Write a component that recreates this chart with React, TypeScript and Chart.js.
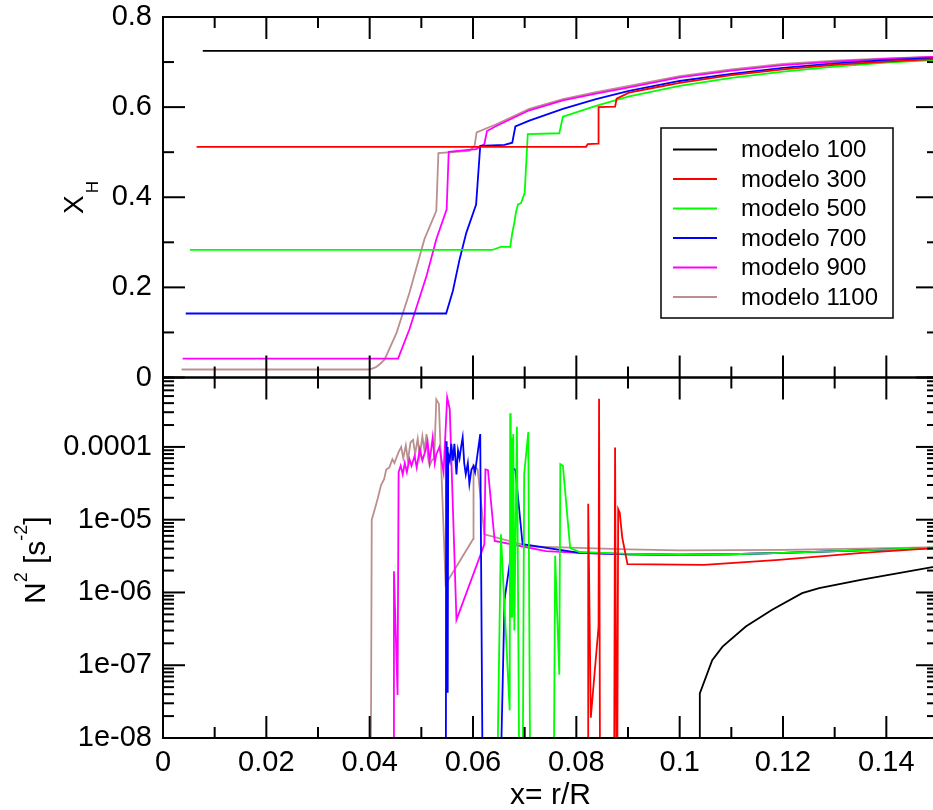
import React, { useEffect, useRef } from 'react';
import { Chart, registerables } from 'chart.js';

Chart.register(...registerables);

const FONT = '"Liberation Sans", Arial, Helvetica, sans-serif';

// ---------- series meta ----------
const seriesLabels = ['modelo 100', 'modelo 300', 'modelo 500', 'modelo 700', 'modelo 900', 'modelo 1100'];
const seriesColors = ['#000000', '#ff0000', '#00ff00', '#0000ff', '#ff00ff', '#bc8f8f'];

// ---------- axis ranges / ticks ----------
const xRange = [0, 0.15];
const xhRange = [0, 0.8];
const n2Range = [1e-8, 9e-4];
const n2DecadeLabels: Record<string, string> = { '-8': '1e-08', '-7': '1e-07', '-6': '1e-06', '-5': '1e-05', '-4': '0.0001' };

// ---------- top panel: X_H vs x = r/R ----------
const xhM100 = [[0.0077, 0.725], [0.15, 0.725]];
const xhM300 = [[0.0065, 0.512], [0.0819, 0.512], [0.0822, 0.518], [0.0842, 0.519], [0.0843, 0.600], [0.0875, 0.601],
  [0.0878, 0.619], [0.0902, 0.632], [0.095, 0.643], [0.1, 0.654], [0.11, 0.671], [0.12, 0.684], [0.13, 0.694], [0.14, 0.701], [0.15, 0.707]];
const xhM500 = [[0.0052, 0.283], [0.0637, 0.283], [0.0654, 0.290], [0.0672, 0.290], [0.0676, 0.321], [0.0680, 0.344],
  [0.0683, 0.366], [0.0687, 0.384], [0.0693, 0.387], [0.0700, 0.410], [0.0706, 0.540], [0.0767, 0.542], [0.0774, 0.579],
  [0.0838, 0.603], [0.0902, 0.624], [0.1, 0.647], [0.11, 0.665], [0.12, 0.679], [0.13, 0.690], [0.14, 0.699], [0.15, 0.705]];
const xhM700 = [[0.0044, 0.142], [0.0548, 0.142], [0.0561, 0.192], [0.0574, 0.262], [0.0587, 0.321], [0.0606, 0.384],
  [0.0614, 0.514], [0.0661, 0.516], [0.0676, 0.521], [0.0682, 0.557], [0.0709, 0.570], [0.0774, 0.596], [0.0838, 0.618],
  [0.0902, 0.636], [0.1, 0.658], [0.11, 0.674], [0.12, 0.687], [0.13, 0.697], [0.14, 0.704], [0.15, 0.709]];
const xhM900 = [[0.0038, 0.042], [0.0455, 0.042], [0.0477, 0.107], [0.0510, 0.225], [0.0529, 0.307], [0.0549, 0.373],
  [0.0553, 0.501], [0.0606, 0.507], [0.0622, 0.518], [0.0627, 0.547], [0.0645, 0.558], [0.0709, 0.593], [0.0774, 0.615],
  [0.0838, 0.630], [0.0902, 0.644], [0.1, 0.666], [0.11, 0.681], [0.12, 0.693], [0.13, 0.701], [0.14, 0.707], [0.15, 0.712]];
const xhM1100 = [[0.0036, 0.0178], [0.0400, 0.0178], [0.0412, 0.023], [0.0420, 0.030], [0.0429, 0.040], [0.0452, 0.099],
  [0.0477, 0.188], [0.0506, 0.307], [0.0529, 0.370], [0.0533, 0.498], [0.0593, 0.503], [0.0603, 0.514], [0.0607, 0.544],
  [0.0645, 0.562], [0.0709, 0.596], [0.0774, 0.618], [0.0838, 0.633], [0.0902, 0.647], [0.1, 0.669], [0.11, 0.684],
  [0.12, 0.696], [0.13, 0.703], [0.14, 0.708], [0.15, 0.712]];

// ---------- bottom panel: N^2 [s^-2] vs x = r/R (values below 1e-8 fall off the axis) ----------
const n2M100 = [[0.1039, 1e-9], [0.1039, 4.1e-8], [0.1063, 1.17e-7], [0.1083, 1.8e-7], [0.1128, 3.4e-7], [0.1179, 5.8e-7],
  [0.1237, 9.8e-7], [0.1270, 1.15e-6], [0.1353, 1.5e-6], [0.15, 2.3e-6]];
const n2M300 = [[0.0823, 1e-9], [0.0823, 1.66e-5], [0.0828, 1.9e-8], [0.0843, 3.4e-7], [0.0844, 4.6e-4], [0.0846, 1e-9],
  [0.0873, 1e-9], [0.0875, 9.8e-5], [0.0878, 1e-9], [0.0879, 1e-9], [0.0881, 1.4e-5], [0.0884, 1.25e-5], [0.0889, 5.6e-6],
  [0.0899, 2.45e-6], [0.1047, 2.4e-6], [0.1192, 2.8e-6], [0.1353, 3.5e-6], [0.15, 4.1e-6]];
const n2M500 = [[0.0646, 1e-9], [0.0654, 6.3e-6], [0.0671, 2.4e-8], [0.0672, 2.9e-4], [0.0673, 4.5e-7], [0.0675, 1.35e-4],
  [0.0676, 4.5e-7], [0.0678, 1.5e-4], [0.0680, 3e-7], [0.0685, 1.9e-4], [0.0690, 1e-9], [0.0696, 1e-9], [0.0699, 4.2e-5],
  [0.0707, 1.6e-4], [0.0711, 1e-9], [0.0756, 1e-9], [0.0759, 3.2e-6], [0.0767, 7.4e-8], [0.0769, 5.8e-5], [0.0774, 5.5e-5],
  [0.0788, 4.1e-6], [0.0806, 3.6e-6], [0.0902, 3.4e-6], [0.1, 3.3e-6], [0.11, 3.35e-6], [0.12, 3.5e-6], [0.135, 3.8e-6], [0.15, 4.15e-6]];
const n2M700 = [[0.05475, 1e-9], [0.0548, 1.2e-4], [0.0549, 4.2e-8], [0.0550, 1.0e-4], [0.0551, 4.2e-8], [0.0552, 8e-5],
  [0.0555, 6.5e-5], [0.0558, 1.1e-4], [0.0561, 6.5e-5], [0.0564, 1.1e-4], [0.0568, 4.2e-5], [0.0571, 9e-5], [0.0574, 7e-5],
  [0.0577, 1.0e-4], [0.0580, 1.35e-4], [0.0583, 6e-5], [0.0586, 4.2e-5], [0.0590, 6e-5], [0.0593, 3.1e-5], [0.0597, 4.9e-5],
  [0.0601, 5.5e-5], [0.0604, 4.5e-5], [0.0614, 1.5e-4], [0.0619, 1e-9], [0.0652, 1e-9], [0.0661, 7.9e-7], [0.0674, 3.5e-6],
  [0.0677, 5.2e-5], [0.0682, 4.8e-5], [0.0696, 4.6e-6], [0.0806, 3.5e-6], [0.0902, 3.35e-6], [0.1, 3.3e-6], [0.11, 3.35e-6],
  [0.12, 3.5e-6], [0.135, 3.8e-6], [0.15, 4.1e-6]];
const n2M900 = [[0.0447, 1e-9], [0.0447, 1.95e-6], [0.0454, 3.9e-8], [0.0456, 4.5e-5], [0.0460, 5.5e-5], [0.0464, 4.2e-5],
  [0.0468, 6e-5], [0.0472, 4.5e-5], [0.0477, 6.8e-5], [0.0481, 5.5e-5], [0.0487, 7.5e-5], [0.0491, 5.2e-5], [0.0497, 9.3e-5],
  [0.0502, 6.5e-5], [0.0508, 8.9e-5], [0.0512, 1.2e-4], [0.0516, 6.3e-5], [0.0522, 1.35e-4], [0.0526, 6e-5], [0.0529, 7.9e-5],
  [0.0535, 1.0e-4], [0.0543, 4.5e-5], [0.0550, 4.8e-4], [0.0555, 3.3e-4], [0.0568, 4.2e-7], [0.0622, 4.6e-6], [0.0624, 4.9e-5],
  [0.0629, 4.8e-5], [0.0642, 5.1e-6], [0.0741, 3.7e-6], [0.0806, 3.5e-6], [0.0902, 3.35e-6], [0.1, 3.3e-6], [0.11, 3.35e-6],
  [0.12, 3.5e-6], [0.135, 3.8e-6], [0.15, 4.1e-6]];
const n2M1100 = [[0.0402, 1e-9], [0.0404, 1.0e-5], [0.0410, 1.4e-5], [0.0416, 2.0e-5], [0.0422, 3.0e-5], [0.0428, 3.6e-5],
  [0.0432, 4.9e-5], [0.0438, 5.2e-5], [0.0444, 6.8e-5], [0.0448, 6.0e-5], [0.0452, 7.2e-5], [0.0456, 8.5e-5], [0.0461, 1.0e-4],
  [0.0465, 7.0e-5], [0.0470, 1.05e-4], [0.0474, 6.5e-5], [0.0479, 1.15e-4], [0.0484, 1.25e-4], [0.0488, 8.0e-5], [0.0493, 1.3e-4],
  [0.0497, 7.5e-5], [0.0502, 1.4e-4], [0.0506, 9e-5], [0.0510, 1.5e-4], [0.0513, 7e-5], [0.0516, 5.5e-5], [0.0520, 6.5e-5],
  [0.0525, 7e-5], [0.0529, 4.5e-4], [0.0534, 3.9e-4], [0.0547, 1.3e-6], [0.0573, 2.6e-6], [0.0600, 5.4e-6], [0.0601, 5.6e-5],
  [0.0609, 4.9e-5], [0.0622, 6.3e-6], [0.0709, 4.3e-6], [0.0902, 3.9e-6], [0.1, 3.8e-6], [0.12, 3.85e-6], [0.135, 4.0e-6], [0.15, 4.2e-6]];

const xhSeries = [xhM100, xhM300, xhM500, xhM700, xhM900, xhM1100];
const n2Series = [n2M100, n2M300, n2M500, n2M700, n2M900, n2M1100];

const fmtNum = (v: number) => String(Number(Number(v).toFixed(4)));

function drawRotated(ctx: CanvasRenderingContext2D, x: number, y: number, parts: { text: string; size: number; dy: number; dx?: number }[]) {
  ctx.save();
  ctx.translate(x, y);
  ctx.rotate(-Math.PI / 2);
  ctx.textAlign = 'left';
  ctx.textBaseline = 'alphabetic';
  ctx.fillStyle = '#000';
  let u = 0;
  for (const p of parts) {
    ctx.font = `${p.size}px ${FONT}`;
    u += p.dx || 0;
    ctx.fillText(p.text, u, p.dy);
    u += ctx.measureText(p.text).width;
  }
  ctx.restore();
}

const framePlugin = {
  id: 'frameTicks',
  afterDatasetsDraw(chart: any) {
    const ctx: CanvasRenderingContext2D = chart.ctx;
    const xs = chart.scales.x;
    const yt = chart.scales.yTop;
    const yb = chart.scales.yBot;
    const L = xs.left;
    const R = xs.right;
    const seg = (x1: number, y1: number, x2: number, y2: number) => {
      ctx.beginPath();
      ctx.moveTo(x1, y1);
      ctx.lineTo(x2, y2);
      ctx.stroke();
    };
    ctx.save();
    ctx.strokeStyle = '#000';
    ctx.lineWidth = 2;
    for (const s of [yt, yb]) ctx.strokeRect(L, s.top, R - L, s.bottom - s.top);
    // x ticks (major 0.02, minor 0.01) on top and bottom of both panels
    for (let i = 0; i <= 15; i++) {
      const px = xs.getPixelForValue(i * 0.01);
      const len = i % 2 === 0 ? 22 : 11;
      for (const s of [yt, yb]) {
        seg(px, s.top, px, s.top + len);
        seg(px, s.bottom, px, s.bottom - len);
      }
    }
    // top panel y ticks
    for (let i = 0; i <= 8; i++) {
      const py = yt.getPixelForValue(i * 0.1);
      const len = i % 2 === 0 ? 22 : 11;
      seg(L, py, L + len, py);
      seg(R, py, R - len, py);
    }
    // bottom panel log ticks
    for (let e = -8; e <= -4; e++) {
      for (let k = 1; k <= 9; k++) {
        const v = k * Math.pow(10, e);
        if (v > n2Range[1] * 1.0001) continue;
        const py = yb.getPixelForValue(v);
        const len = k === 1 ? 22 : 11;
        seg(L, py, L + len, py);
        seg(R, py, R - len, py);
      }
    }
    ctx.restore();
  },
  afterDraw(chart: any) {
    const ctx: CanvasRenderingContext2D = chart.ctx;
    const xs = chart.scales.x;
    // x axis title
    ctx.save();
    ctx.fillStyle = '#000';
    ctx.font = `30px ${FONT}`;
    ctx.textAlign = 'center';
    ctx.textBaseline = 'alphabetic';
    ctx.fillText('x= r/R', (xs.left + xs.right) / 2, 804);
    ctx.restore();
    // y axis titles
    drawRotated(ctx, 83, 214, [
      { text: 'X', size: 28, dy: 0 },
      { text: 'H', size: 17, dy: 15, dx: 2 },
    ]);
    drawRotated(ctx, 45, 604, [
      { text: 'N', size: 30, dy: 0 },
      { text: '2', size: 18, dy: -18 },
      { text: ' [s', size: 30, dy: 0 },
      { text: '-2', size: 18, dy: -18 },
      { text: ']', size: 30, dy: 0 },
    ]);
    // legend box
    const bx = 661, by = 128, bw = 232, bh = 190;
    ctx.save();
    ctx.fillStyle = '#fff';
    ctx.fillRect(bx, by, bw, bh);
    ctx.strokeStyle = '#000';
    ctx.lineWidth = 1.5;
    ctx.strokeRect(bx, by, bw, bh);
    ctx.font = `24px ${FONT}`;
    ctx.textAlign = 'left';
    ctx.textBaseline = 'middle';
    const ds = chart.data.datasets.slice(0, 6);
    ds.forEach((d: any, i: number) => {
      const y = 149.5 + i * 29.5;
      ctx.strokeStyle = d.borderColor;
      ctx.lineWidth = 1.8;
      ctx.beginPath();
      ctx.moveTo(673, y);
      ctx.lineTo(717, y);
      ctx.stroke();
      ctx.fillStyle = '#000';
      ctx.fillText(d.label, 741, y + 1);
    });
    ctx.restore();
  },
};

const zeroPad = (s: any) => {
  s.paddingTop = 0;
  s.paddingBottom = 0;
  s.paddingLeft = 0;
  s.paddingRight = 0;
};

export default function App() {
  const ref = useRef<HTMLCanvasElement>(null);
  useEffect(() => {
    if (!ref.current) return;
    Chart.defaults.font.family = FONT;
    Chart.defaults.color = '#000';
    const tickFont = { size: 29, family: FONT, lineHeight: 1 };
    const datasets: any[] = [];
    xhSeries.forEach((s, i) =>
      datasets.push({
        label: seriesLabels[i],
        data: s.map(([x, y]) => ({ x, y })),
        borderColor: seriesColors[i],
        backgroundColor: seriesColors[i],
        yAxisID: 'yTop',
        xAxisID: 'x',
      })
    );
    n2Series.forEach((s, i) =>
      datasets.push({
        label: seriesLabels[i] + ' N2',
        data: s.map(([x, y]) => ({ x, y })),
        borderColor: seriesColors[i],
        backgroundColor: seriesColors[i],
        yAxisID: 'yBot',
        xAxisID: 'x',
      })
    );
    const chart = new Chart(ref.current, {
      type: 'line',
      data: { datasets },
      plugins: [framePlugin],
      options: {
        responsive: false,
        animation: false,
        events: [],
        layout: { padding: { left: 0, right: 7, top: 17, bottom: 0 } },
        elements: {
          point: { radius: 0, hoverRadius: 0 },
          line: { tension: 0, borderWidth: 1.8, fill: false },
        },
        plugins: { legend: { display: false }, tooltip: { enabled: false } },
        scales: {
          x: {
            type: 'linear',
            position: 'bottom',
            min: xRange[0],
            max: xRange[1],
            grid: { display: false, drawTicks: false },
            border: { display: false },
            ticks: { stepSize: 0.02, includeBounds: false, padding: 10, font: tickFont, autoSkip: false, maxRotation: 0, callback: (v: any) => fmtNum(v) },
            afterFit: (s: any) => { s.height = 72; zeroPad(s); },
          },
          yBot: {
            type: 'logarithmic',
            position: 'left',
            stack: 'panels',
            stackWeight: 1,
            min: n2Range[0],
            max: n2Range[1],
            grid: { display: false, drawTicks: false },
            border: { display: false },
            ticks: {
              autoSkip: false,
              padding: 11,
              font: tickFont,
              callback: (v: any) => {
                const e = Math.log10(Number(v));
                const r = Math.round(e);
                if (Math.abs(e - r) > 1e-6) return '';
                return n2DecadeLabels[String(r)] ?? '';
              },
            },
            afterFit: (s: any) => { s.width = 163; zeroPad(s); },
          },
          yTop: {
            type: 'linear',
            position: 'left',
            stack: 'panels',
            stackWeight: 1,
            min: xhRange[0],
            max: xhRange[1],
            grid: { display: false, drawTicks: false },
            border: { display: false },
            ticks: { stepSize: 0.2, padding: 11, font: tickFont, autoSkip: false, callback: (v: any) => fmtNum(v) },
            afterFit: (s: any) => { s.width = 163; zeroPad(s); },
          },
        },
      } as any,
    });
    return () => chart.destroy();
  }, []);
  return (
    <div style={{ position: 'fixed', left: 0, top: 0, width: 933, height: 810, overflow: 'hidden', background: '#fff' }}>
      <canvas ref={ref} width={945} height={810} style={{ display: 'block' }} />
    </div>
  );
}
